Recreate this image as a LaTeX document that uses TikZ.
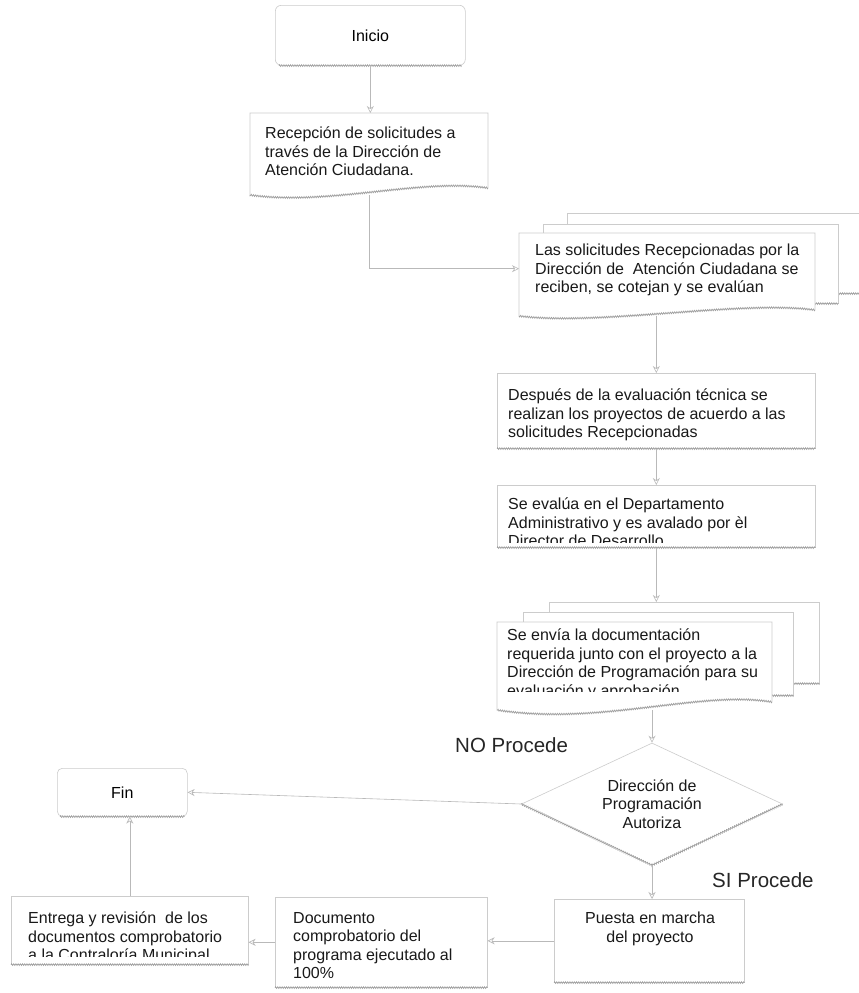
\documentclass[tikz,border=0pt]{standalone}
\usepackage{fontspec}
\setmainfont{Liberation Sans}
\usetikzlibrary{shapes.geometric,arrows.meta,decorations.pathmorphing,calc}
\tikzset{
  frame/.style={draw=gray!40, line width=0.6pt, fill=white, inner sep=0pt, anchor=north west},
  ghost/.style={inner sep=0pt, anchor=north west},
  doc/.style={draw=gray!40, line width=0.6pt, fill=white},
  zz/.style={draw=gray!75, line width=0.6pt, decorate, decoration={zigzag, amplitude=0.9pt, segment length=2.2pt}},
  txt/.style={inner sep=0pt, anchor=north west, align=left, font=\fontsize{16}{18.5}\selectfont, text=black!90},
  ctxt/.style={inner sep=0pt, align=center, font=\fontsize{16}{18.5}\selectfont, text=black!90},
  big/.style={inner sep=0pt, anchor=west, font=\fontsize{20.5}{24}\selectfont, text=black!85},
  arr/.style={draw=gray!55, line width=0.6pt, -{Stealth[open, length=7pt, width=7pt]}},
}
\begin{document}
\begin{tikzpicture}[x=1pt,y=-1pt]
\useasboundingbox (0,0) rectangle (859,993);
\fill[white] (0,0) rectangle (859,993);

% Inicio
\node[frame, rounded corners=6pt, minimum width=190pt, minimum height=60pt, font=\fontsize{16}{18.5}\selectfont] (ini) at (275,5) {Inicio};
\draw[zz] ([xshift=4pt]ini.south west) -- ([xshift=-4pt]ini.south east);

% Recepcion
\node[ghost, minimum width=238pt, minimum height=82pt] (rec) at (250,113) {};
\draw[doc] (250,113) -- (488,113) -- (488,188) .. controls (420,178) and (330,206) .. (250,195) -- cycle;
\draw[zz] (488,188) .. controls (420,178) and (330,206) .. (250,195);
\node[txt] (rec-t) at (265,127) {Recepción de solicitudes a\\través de la Dirección de\\Atención Ciudadana.};
\draw[arr] (ini.south) -- (ini.south |- rec.north);

% multi document 1
\node[frame, minimum width=300pt, minimum height=80pt] (md1b) at (567,213) {};
\draw[zz] (md1b.south west) -- (md1b.south east);
\node[frame, minimum width=295pt, minimum height=79pt] (md1m) at (543,224) {};
\draw[zz] (md1m.south west) -- (md1m.south east);
\node[ghost, minimum width=296pt, minimum height=83pt] (md1) at (519,233) {};
\draw[doc] (519,233) -- (815,233) -- (815,310) .. controls (740,300) and (600,326) .. (519,316) -- cycle;
\draw[zz] (815,310) .. controls (740,300) and (600,326) .. (519,316);
\node[txt] (md1-t) at (535,244) {Las solicitudes Recepcionadas por la\\Dirección de \ Atención Ciudadana se\\reciben, se cotejan y se evalúan};

\draw[arr] (rec.south) |- ([yshift=6pt]md1.west);

% Despues
\node[frame, minimum width=318pt, minimum height=75pt] (desp) at (497,373) {};
\draw[zz] (desp.south west) -- (desp.south east);
\node[txt] (desp-t) at (508,389) {Después de la evaluación técnica se\\realizan los proyectos de acuerdo a las\\solicitudes Recepcionadas};
\draw[arr] (desp.north |- md1.south) -- (desp.north);

% Se evalua
\node[frame, minimum width=318pt, minimum height=62pt] (eval) at (497,485) {};
\draw[zz] (eval.south west) -- (eval.south east);
\begin{scope}
  \clip (497,485) rectangle (815,542);
  \node[txt] (eval-t) at (508,498) {Se evalúa en el Departamento\\Administrativo y es avalado por èl\\Director de Desarrollo};
\end{scope}
\draw[arr] (desp.south) -- (eval.north);

% multi document 2
\node[frame, minimum width=270pt, minimum height=81pt] (md2b) at (549,602) {};
\draw[zz] (md2b.south west) -- (md2b.south east);
\node[frame, minimum width=270pt, minimum height=83pt] (md2m) at (523,612) {};
\draw[zz] (md2m.south west) -- (md2m.south east);
\node[ghost, minimum width=275pt, minimum height=88pt] (md2) at (497,622) {};
\draw[doc] (497,622) -- (772,622) -- (772,702) .. controls (700,690) and (600,726) .. (497,710) -- cycle;
\draw[zz] (772,702) .. controls (700,690) and (600,726) .. (497,710);
\begin{scope}
  \clip (497,622) rectangle (772,691);
  \node[txt] (md2-t) at (507,629) {Se envía la documentación\\requerida junto con el proyecto a la\\Dirección de Programación para su\\evaluación y aprobación};
\end{scope}
\draw[arr] (eval.south) -- (eval.south |- md2b.north);

% decision
\node[diamond, aspect=2, draw=gray!40, line width=0.6pt, fill=white, minimum width=261pt, minimum height=122pt, inner sep=0pt, align=center, font=\fontsize{16}{18.5}\selectfont, text=black!90] (dia) at (652,804) {Dirección de\\Programación\\Autoriza};
\draw[zz] (dia.west) -- (dia.south) -- (dia.east);
\draw[arr] (dia.north |- md2.south) -- (dia.north);

\node[big] (no) at (455,745) {NO Procede};
\node[big] (si) at (712,880) {SI Procede};

% Fin
\node[frame, rounded corners=5pt, minimum width=130pt, minimum height=48pt, font=\fontsize{16}{18.5}\selectfont] (fin) at (57,768) {Fin};
\draw[zz] ([xshift=3pt]fin.south west) -- ([xshift=-3pt]fin.south east);
\draw[arr] (dia.west) -- (fin.east);

% Puesta en marcha
\node[frame, minimum width=190pt, minimum height=83pt] (pue) at (554,899) {};
\draw[zz] (pue.south west) -- (pue.south east);
\node[ctxt, anchor=north] (pue-t) at (650,912) {Puesta en marcha\\del proyecto};
\draw[arr] (dia.south) -- (dia.south |- pue.north);

% Documento
\node[frame, minimum width=212pt, minimum height=90pt] (doc) at (275,897) {};
\draw[zz] (doc.south west) -- (doc.south east);
\node[txt] (doc-t) at (293,912) {Documento\\comprobatorio del\\programa ejecutado al\\100\%};
\draw[arr] (pue.west) -- (pue.west -| doc.east);

% Entrega
\node[frame, minimum width=237pt, minimum height=68pt] (ent) at (11,896) {};
\draw[zz] (ent.south west) -- (ent.south east);
\begin{scope}
  \clip (11,896) rectangle (248,956);
  \node[txt] (ent-t) at (28,912) {Entrega y revisión \ de los\\documentos comprobatorio\\a la Contraloría Municipal};
\end{scope}
\draw[arr] (doc.west) -- (doc.west -| ent.east);
\draw[arr] (ent.north) -- (ent.north |- fin.south);
\end{tikzpicture}
\end{document}
